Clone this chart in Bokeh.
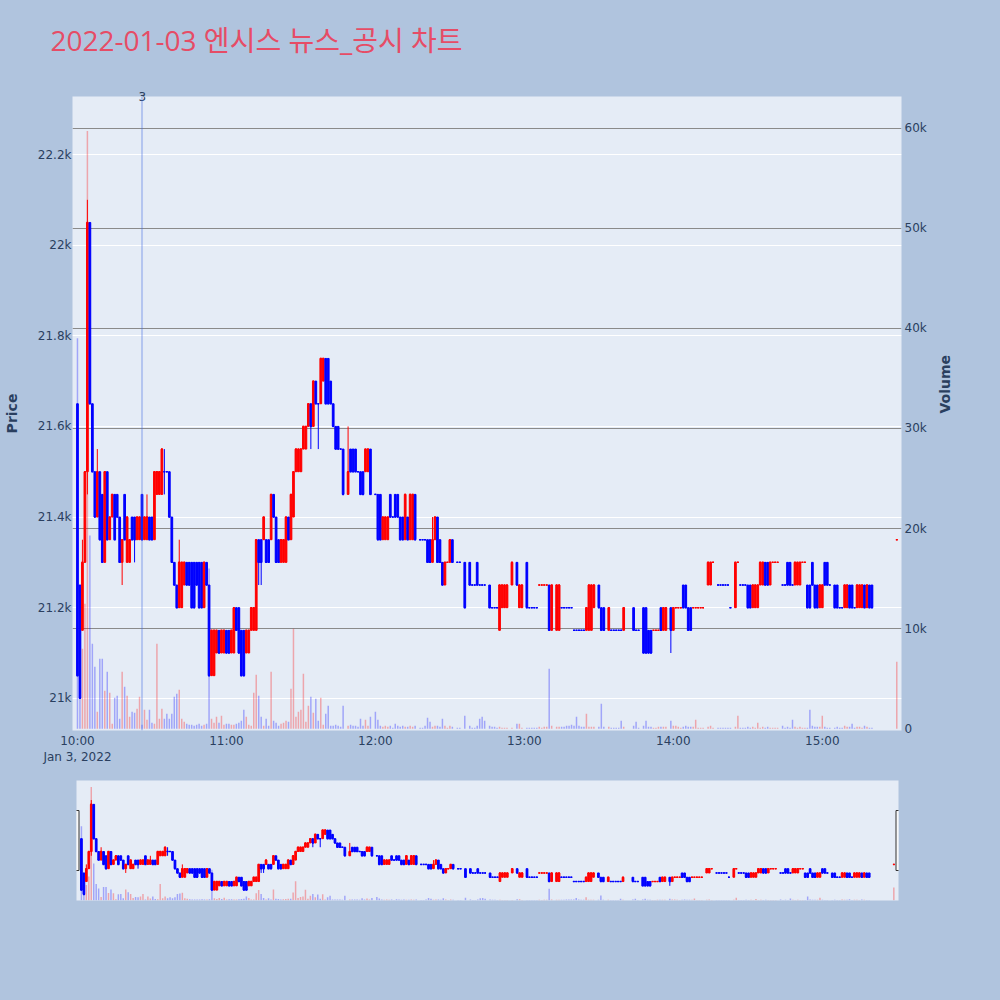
import math
import pandas as pd
from bokeh.plotting import figure
from bokeh.models import (ColumnDataSource, Range1d, LinearAxis, SingleIntervalTicker, FixedTicker,
                          DatetimeTickFormatter, CustomJSTickFormatter, Grid, Span, Title)
from bokeh.layouts import column
from bokeh.embed import file_html
from bokeh.resources import INLINE

TITLE = "2022-01-03 엔시스 뉴스_공시 차트"
SESSION_START = "2022-01-03 10:00"

# minutes after 10:00 that have a candle
minute = [*range(0, 108), *range(109, 119), *range(120, 137), *range(138, 152), 153, 154, 156,
          *range(158, 165), *range(166, 174), 175, 177, 178, 179, *range(181, 192), *range(193, 209),
          210, 211, 212, *range(214, 221), 224, 225, 226, *range(228, 238), *range(239, 253),
          254, 255, 256, *range(258, 264), *range(265, 283), *range(284, 304), *range(305, 321), 330]

open_ = [
    21650, 21250, 21150, 21300, 21500, 22050, 21650, 21500, 21400, 21500,
    21450, 21300, 21500, 21350, 21400, 21450, 21450, 21400, 21300, 21450,
    21300, 21300, 21400, 21400, 21350, 21350, 21450, 21350, 21350, 21400,
    21400, 21350, 21450, 21450, 21450, 21500, 21500, 21500, 21400, 21300,
    21250, 21200, 21200, 21250, 21300, 21300, 21300, 21300, 21300, 21300,
    21300, 21200, 21300, 21250, 21050, 21050, 21100, 21150, 21100, 21100,
    21150, 21150, 21100, 21100, 21200, 21200, 21150, 21150, 21100, 21100,
    21150, 21150, 21150, 21350, 21350, 21350, 21350, 21350, 21350, 21450,
    21400, 21350, 21300, 21300, 21300, 21400, 21350, 21400, 21500, 21500,
    21500, 21550, 21550, 21600, 21650, 21600, 21700, 21650, 21650, 21700,
    21750, 21750, 21700, 21650, 21600, 21600, 21550, 21550,
    21450, 21550, 21550, 21550, 21500, 21500, 21500, 21500, 21500, 21550,
    21450, 21450, 21450, 21350, 21350, 21350, 21450, 21400, 21450, 21450, 21400, 21400, 21350, 21400, 21350, 21350, 21450,
    21350, 21350, 21350, 21350, 21350, 21300, 21350, 21400, 21350, 21300, 21250, 21300, 21300, 21350,
    21300, 21300, 21300,
    21300, 21250, 21250, 21300, 21250, 21250, 21250,
    21250, 21200, 21200, 21200, 21150, 21200, 21200, 21200,
    21250, 21300, 21200, 21200,
    21300, 21200, 21200, 21200, 21200, 21250, 21250, 21250, 21250, 21250, 21150,
    21150, 21150, 21200, 21200, 21200, 21200, 21200, 21150, 21150, 21150, 21150, 21150, 21150, 21150, 21150, 21200,
    21250, 21200, 21200,
    21150, 21150, 21150, 21150, 21150, 21150, 21150,
    21200, 21150, 21150,
    21200, 21200, 21150, 21150, 21150, 21150, 21150, 21200, 21150, 21150,
    21200, 21150, 21200, 21200, 21200, 21250, 21250, 21200, 21200, 21200, 21200, 21200, 21200, 21200,
    21250, 21250, 21300,
    21250, 21250, 21250, 21250, 21250, 21200,
    21200, 21300, 21250, 21250, 21250, 21250, 21250, 21200, 21200, 21200, 21250, 21250, 21300, 21300, 21250, 21300, 21300, 21300,
    21250, 21250, 21300, 21300, 21250, 21250, 21250, 21250, 21300, 21300, 21250, 21250, 21300, 21250, 21250, 21200, 21200, 21300, 21300, 21250,
    21250, 21250, 21200, 21200, 21200, 21200, 21250, 21250, 21200, 21200, 21200, 21200, 21250, 21200, 21250, 21250,
    21350]

high = [
    21650, 21250, 21350, 21500, 22100, 22050, 21650, 21500, 21550, 21500,
    21450, 21500, 21500, 21400, 21450, 21450, 21450, 21400, 21350, 21450,
    21400, 21350, 21400, 21400, 21400, 21400, 21450, 21400, 21450, 21400,
    21400, 21500, 21500, 21500, 21550, 21550, 21500, 21500, 21400, 21300,
    21250, 21350, 21300, 21300, 21300, 21300, 21300, 21300, 21300, 21300,
    21300, 21300, 21300, 21250, 21150, 21150, 21150, 21150, 21150, 21150,
    21150, 21150, 21150, 21200, 21200, 21200, 21150, 21150, 21150, 21150,
    21200, 21200, 21350, 21350, 21350, 21400, 21350, 21350, 21450, 21450,
    21400, 21350, 21350, 21350, 21400, 21400, 21450, 21500, 21550, 21550,
    21550, 21600, 21600, 21650, 21650, 21700, 21700, 21650, 21750, 21750,
    21750, 21750, 21700, 21650, 21600, 21600, 21550, 21550,
    21600, 21550, 21550, 21550, 21500, 21500, 21500, 21550, 21550, 21550,
    21450, 21450, 21450, 21400, 21400, 21400, 21450, 21400, 21450, 21450, 21400, 21400, 21450, 21400, 21450, 21450, 21450,
    21350, 21350, 21350, 21350, 21350, 21400, 21400, 21400, 21350, 21300, 21300, 21300, 21350, 21350,
    21300, 21300, 21300,
    21300, 21250, 21250, 21300, 21250, 21250, 21250,
    21250, 21200, 21200, 21200, 21250, 21250, 21250, 21250,
    21300, 21300, 21250, 21250,
    21300, 21200, 21200, 21200, 21200, 21250, 21250, 21250, 21250, 21250, 21250,
    21250, 21250, 21200, 21200, 21200, 21200, 21200, 21150, 21150, 21150, 21150, 21150, 21200, 21250, 21250, 21250,
    21250, 21200, 21200,
    21200, 21150, 21150, 21150, 21150, 21150, 21200,
    21200, 21150, 21150,
    21200, 21200, 21150, 21150, 21150, 21150, 21150, 21200, 21200, 21200,
    21200, 21200, 21200, 21200, 21200, 21250, 21250, 21200, 21200, 21200, 21200, 21200, 21200, 21200,
    21300, 21300, 21300,
    21250, 21250, 21250, 21250, 21250, 21200,
    21300, 21300, 21250, 21250, 21250, 21250, 21250, 21250, 21250, 21250, 21300, 21300, 21300, 21300, 21300, 21300, 21300, 21300,
    21250, 21250, 21300, 21300, 21250, 21300, 21300, 21300, 21300, 21300, 21250, 21250, 21300, 21250, 21250, 21250, 21250, 21300, 21300, 21250,
    21250, 21250, 21200, 21200, 21250, 21250, 21250, 21250, 21200, 21250, 21250, 21250, 21250, 21250, 21250, 21250,
    21350]

low = [
    21050, 21000, 21150, 21300, 21450, 21650, 21500, 21400, 21400, 21350,
    21300, 21300, 21350, 21350, 21400, 21350, 21400, 21300, 21250, 21350,
    21300, 21300, 21350, 21300, 21350, 21350, 21350, 21350, 21350, 21350,
    21350, 21350, 21450, 21450, 21450, 21450, 21500, 21400, 21300, 21250,
    21200, 21200, 21200, 21250, 21250, 21250, 21200, 21200, 21250, 21200,
    21200, 21200, 21250, 21050, 21050, 21050, 21100, 21100, 21100, 21100,
    21100, 21100, 21100, 21100, 21150, 21100, 21050, 21050, 21100, 21100,
    21150, 21150, 21150, 21250, 21250, 21350, 21300, 21300, 21350, 21400,
    21300, 21300, 21300, 21300, 21300, 21350, 21350, 21400, 21500, 21500,
    21500, 21550, 21550, 21600, 21550, 21600, 21650, 21550, 21650, 21700,
    21650, 21650, 21650, 21600, 21550, 21550, 21550, 21450,
    21450, 21500, 21500, 21500, 21500, 21450, 21450, 21500, 21500, 21450,
    21450, 21350, 21350, 21350, 21350, 21350, 21400, 21400, 21400, 21400, 21350, 21350, 21350, 21350, 21350, 21350, 21350,
    21350, 21350, 21350, 21300, 21300, 21300, 21350, 21300, 21300, 21250, 21250, 21300, 21300, 21300,
    21300, 21300, 21200,
    21250, 21250, 21250, 21250, 21250, 21250, 21250,
    21200, 21200, 21200, 21200, 21150, 21200, 21200, 21200,
    21250, 21250, 21200, 21200,
    21200, 21200, 21200, 21200, 21200, 21250, 21250, 21250, 21250, 21150, 21150,
    21150, 21150, 21200, 21200, 21200, 21200, 21200, 21150, 21150, 21150, 21150, 21150, 21150, 21150, 21150, 21200,
    21200, 21150, 21150,
    21150, 21150, 21150, 21150, 21150, 21150, 21150,
    21150, 21150, 21150,
    21100, 21100, 21100, 21100, 21150, 21150, 21150, 21150, 21150, 21150,
    21100, 21150, 21200, 21200, 21200, 21200, 21200, 21150, 21150, 21200, 21200, 21200, 21200, 21200,
    21250, 21250, 21300,
    21250, 21250, 21250, 21250, 21250, 21200,
    21200, 21300, 21250, 21250, 21250, 21200, 21200, 21200, 21200, 21200, 21250, 21250, 21250, 21250, 21250, 21300, 21300, 21300,
    21250, 21250, 21250, 21250, 21250, 21250, 21250, 21250, 21300, 21300, 21200, 21200, 21250, 21200, 21200, 21200, 21200, 21250, 21250, 21250,
    21200, 21200, 21200, 21200, 21200, 21200, 21200, 21200, 21200, 21200, 21200, 21200, 21200, 21200, 21200, 21200,
    21350]

close = [
    21050, 21000, 21300, 21500, 22050, 21650, 21500, 21400, 21500, 21350,
    21300, 21500, 21350, 21400, 21450, 21350, 21400, 21300, 21350, 21350,
    21400, 21350, 21350, 21350, 21400, 21400, 21350, 21400, 21400, 21350,
    21350, 21500, 21500, 21500, 21550, 21500, 21500, 21400, 21300, 21250,
    21200, 21300, 21300, 21300, 21250, 21250, 21200, 21200, 21250, 21200,
    21200, 21300, 21250, 21050, 21150, 21150, 21150, 21100, 21150, 21150,
    21100, 21100, 21150, 21200, 21150, 21100, 21050, 21050, 21150, 21150,
    21200, 21200, 21350, 21300, 21300, 21400, 21300, 21300, 21450, 21400,
    21300, 21300, 21350, 21350, 21400, 21350, 21450, 21500, 21550, 21550,
    21550, 21600, 21600, 21650, 21600, 21700, 21650, 21650, 21750, 21750,
    21650, 21650, 21650, 21600, 21550, 21550, 21550, 21450,
    21500, 21500, 21500, 21500, 21500, 21450, 21450, 21550, 21550, 21450,
    21450, 21350, 21350, 21400, 21400, 21400, 21400, 21400, 21400, 21400, 21350, 21350, 21450, 21350, 21450, 21450, 21350,
    21350, 21350, 21350, 21300, 21300, 21350, 21400, 21300, 21300, 21250, 21300, 21300, 21350, 21300,
    21300, 21300, 21200,
    21250, 21250, 21250, 21250, 21250, 21250, 21250,
    21200, 21200, 21200, 21200, 21250, 21250, 21250, 21250,
    21300, 21250, 21250, 21250,
    21200, 21200, 21200, 21200, 21200, 21250, 21250, 21250, 21250, 21150, 21250,
    21250, 21250, 21200, 21200, 21200, 21200, 21200, 21150, 21150, 21150, 21150, 21150, 21200, 21250, 21250, 21250,
    21200, 21150, 21150,
    21200, 21150, 21150, 21150, 21150, 21150, 21200,
    21150, 21150, 21150,
    21100, 21100, 21100, 21100, 21150, 21150, 21150, 21150, 21200, 21200,
    21150, 21200, 21200, 21200, 21200, 21200, 21200, 21150, 21150, 21200, 21200, 21200, 21200, 21200,
    21300, 21300, 21300,
    21250, 21250, 21250, 21250, 21250, 21200,
    21300, 21300, 21250, 21250, 21250, 21200, 21200, 21250, 21250, 21250, 21300, 21300, 21250, 21250, 21300, 21300, 21300, 21300,
    21250, 21250, 21250, 21250, 21250, 21300, 21300, 21300, 21300, 21300, 21200, 21200, 21250, 21200, 21200, 21250, 21250, 21250, 21250, 21250,
    21200, 21200, 21200, 21200, 21250, 21250, 21200, 21200, 21200, 21250, 21250, 21250, 21200, 21250, 21200, 21200,
    21350]

volume = [
    39000, 4000, 8000, 12500, 59700, 19300, 8500, 6200, 1700, 7000,
    7000, 3800, 5700, 3600, 500, 3100, 3300, 1000, 5700, 4200,
    3300, 1200, 1700, 1600, 2000, 3200, 400, 1900, 900, 1900,
    600, 500, 8500, 1000, 2000, 1000, 1500, 1000, 1500, 3200,
    3500, 3900, 1000, 700, 500, 400, 400, 300, 400, 500,
    300, 400, 500, 16000, 1000, 600, 1200, 600, 1300, 400,
    500, 500, 400, 400, 500, 600, 800, 1900, 1200, 400,
    300, 3600, 5400, 3300, 1200, 300, 1000, 300, 5700, 800,
    600, 300, 500, 600, 800, 700, 4000, 10000, 1200, 1700,
    1900, 5500, 700, 2300, 3200, 1600, 3000, 800, 3100, 400,
    1500, 2300, 300, 300, 400, 300, 200, 2300,
    300, 400, 300, 300, 200, 1000, 300, 900, 300, 1200,
    1700, 900, 300, 200, 300, 200, 300, 100, 500, 300, 200, 300, 200, 200, 300, 200, 300,
    100, 100, 300, 1100, 700, 200, 300, 300, 200, 1000, 300, 100, 300, 200,
    100, 100, 1300,
    300, 100, 100, 300, 1000, 1200, 800,
    300, 200, 200, 100, 200, 100, 100, 100,
    100, 500, 500, 100,
    100, 100, 100, 100, 100, 200, 100, 200, 200, 6000, 300,
    200, 200, 200, 200, 300, 300, 400, 300, 1200, 300, 200, 200, 1500, 200, 200, 200,
    200, 2500, 200,
    200, 100, 100, 100, 100, 800, 200,
    300, 700, 100,
    300, 800, 200, 200, 100, 100, 200, 200, 200, 200,
    800, 300, 300, 200, 100, 200, 300, 200, 200, 200, 900, 100, 100, 100,
    200, 300, 100,
    100, 100, 100, 100, 100, 100,
    200, 1300, 100, 100, 100, 200, 100, 200, 100, 600, 100, 200, 100, 200, 100, 100, 100, 100,
    300, 100, 200, 100, 900, 200, 100, 200, 100, 100, 100, 1900, 300, 200, 200, 200, 1300, 200, 100, 100,
    100, 200, 100, 100, 300, 200, 200, 500, 100, 200, 200, 100, 300, 200, 100, 100,
    6700]

news_minute = [26]
news_label = ["3"]

n = len(minute)
assert all(len(a) == n for a in (open_, high, low, close, volume)), [len(a) for a in (minute, open_, high, low, close, volume)]

UP, DOWN = "#FF0000", "#0000FF"
start = pd.Timestamp(SESSION_START)
times = [start + pd.Timedelta(minutes=m) for m in minute]

colors = []
prev_c, prev_dir = None, DOWN
for o, c in zip(open_, close):
    if c > o:
        d = UP
    elif c < o:
        d = DOWN
    elif prev_c is not None and c > prev_c:
        d = UP
    elif prev_c is not None and c < prev_c:
        d = DOWN
    else:
        d = prev_dir
    colors.append(d)
    prev_c, prev_dir = c, d

BODY_W = 42000  # ms
src = ColumnDataSource(dict(
    t=times, o=open_, h=high, l=low, c=close, v=volume, color=colors,
    top=[max(a, b) for a, b in zip(open_, close)],
    bottom=[min(a, b) for a, b in zip(open_, close)],
    x0=[t - pd.Timedelta(milliseconds=BODY_W / 2) for t in times],
    x1=[t + pd.Timedelta(milliseconds=BODY_W / 2) for t in times],
))

x_start = (start - pd.Timedelta(minutes=2)).to_pydatetime()
x_end = (start + pd.Timedelta(minutes=331.9)).to_pydatetime()
PRICE_RANGE = (20929, 22328)
VOL_RANGE = (-170, 63150)

FONT = "DejaVu Sans"
TXT = "#2a3f5f"
PAGE_BG = "#B0C4DE"
PLOT_BG = "#E5ECF6"
FRAME_LEFT, FRAME_RIGHT_BORDER = 72, 99

# ---- title strip ----
pt = figure(width=1000, height=60, output_backend="svg", toolbar_location=None,
            x_axis_location=None, y_axis_location=None, x_range=(0, 1), y_range=(0, 1),
            min_border_left=FRAME_LEFT, min_border_right=FRAME_RIGHT_BORDER,
            min_border_top=58, min_border_bottom=0,
            background_fill_color=PAGE_BG, border_fill_color=PAGE_BG, outline_line_color=None)
pt.frame_align = False
pt.grid.visible = False
pt.title.text = TITLE
pt.title.text_font = "'Open Sans', 'Noto Sans CJK KR', sans-serif"
pt.title.text_font_size = "28px"
pt.title.text_font_style = "normal"
pt.title.text_color = "#E64C66"
pt.title.align = "left"
pt.title.offset = -22
pt.title.standoff = 0
pt.scatter(x=[0.5], y=[0.5], size=0, alpha=0)

# ---- main chart ----
p = figure(width=1000, height=710, x_axis_type="datetime", title=None,
           x_range=Range1d(x_start, x_end), y_range=Range1d(*PRICE_RANGE),
           output_backend="svg", toolbar_location=None,
           min_border_left=FRAME_LEFT, min_border_right=FRAME_RIGHT_BORDER,
           min_border_top=36, min_border_bottom=40,
           background_fill_color=PLOT_BG, border_fill_color=PAGE_BG, outline_line_color=None)
p.frame_align = False
p.extra_y_ranges = {"vol": Range1d(*VOL_RANGE)}

# price axis
ya = p.yaxis[0]
ya.ticker = SingleIntervalTicker(interval=200)
ya.formatter = CustomJSTickFormatter(code="return (Math.round(tick/100)/10).toString() + 'k';")
ya.axis_label = "Price"
ya.major_label_standoff = 1
ya.axis_label_standoff = 15

# volume axis
va = LinearAxis(y_range_name="vol", ticker=SingleIntervalTicker(interval=10000),
                formatter=CustomJSTickFormatter(code="return tick == 0 ? '0' : (tick/1000).toString() + 'k';"),
                axis_label="Volume", major_label_standoff=3, axis_label_standoff=15,
                axis_label_orientation=math.pi / 2)
p.add_layout(va, "right")

xa = p.xaxis[0]
xa.ticker = FixedTicker(ticks=[(start + pd.Timedelta(hours=h)).value / 1e6 for h in range(6)])
ctx = DatetimeTickFormatter(hours="%b %-d, %Y", hourmin="%b %-d, %Y", minutes="%b %-d, %Y")
xa.formatter = DatetimeTickFormatter(hours="%H:%M", hourmin="%H:%M", minutes="%H:%M",
                                     context=ctx, context_which="start")
xa.major_label_standoff = 3

for ax in (ya, va, xa):
    ax.axis_line_color = None
    ax.major_tick_line_color = None
    ax.minor_tick_line_color = None
    ax.major_tick_out = 0
    ax.major_tick_in = 0
    ax.minor_tick_out = 0
    ax.minor_tick_in = 0
    ax.major_label_text_font = FONT
    ax.major_label_text_font_size = "12px"
    ax.major_label_text_color = TXT
    ax.axis_label_text_font = FONT
    ax.axis_label_text_font_size = "14px"
    ax.axis_label_text_font_style = "bold"
    ax.axis_label_text_color = TXT

p.xgrid.grid_line_color = None
p.ygrid.grid_line_color = "white"
p.ygrid.grid_line_width = 1
vol_grid = Grid(dimension=1, ticker=FixedTicker(ticks=[10000, 20000, 30000, 40000, 50000, 60000]),
                y_range_name="vol", grid_line_color="#8a8a8a", grid_line_width=1)
p.add_layout(vol_grid)

# news markers: vertical line + count label at the top edge of the plot
frame_w = 1000 - FRAME_LEFT - FRAME_RIGHT_BORDER
x_span_min = (x_end - x_start).total_seconds() / 60
for nm, nl in zip(news_minute, news_label):
    nt = start + pd.Timedelta(minutes=nm)
    p.add_layout(Span(location=nt.value / 1e6, dimension="height", line_color="#4169E1",
                      line_alpha=0.3, line_width=2))
    px = (nm + 2) / x_span_min * frame_w   # pixel position of the news time inside the frame
    t3 = Title(text=nl, align="left", offset=px - 3.5, text_font=FONT, text_font_size="12px",
               text_font_style="normal", text_color=TXT)
    try:
        t3.standoff = -9
    except Exception:
        t3.standoff = 0
    p.add_layout(t3, "above")


def draw(fig, body_w=BODY_W):
    fig.vbar(x="t", top="v", bottom=0, width=36000, source=src, y_range_name="vol",
             fill_color="color", line_color=None, fill_alpha=0.3)
    fig.segment(x0="t", y0="h", x1="t", y1="l", source=src, line_color="color", line_width=1)
    fig.vbar(x="t", top="top", bottom="bottom", width=body_w, source=src,
             fill_color="color", line_color="color", line_width=1)
    fig.segment(x0="x0", y0="c", x1="x1", y1="c", source=src, line_color="color", line_width=1.5)


draw(p)

# ---- range slider preview ----
p2 = figure(width=1000, height=230, x_axis_type="datetime",
            x_range=Range1d(x_start, x_end), y_range=Range1d(*PRICE_RANGE),
            x_axis_location=None, y_axis_location=None,
            output_backend="svg", toolbar_location=None,
            min_border_left=76, min_border_right=102, min_border_top=10, min_border_bottom=100,
            background_fill_color=PLOT_BG, border_fill_color=PAGE_BG, outline_line_color=None)
p2.frame_align = False
p2.extra_y_ranges = {"vol": Range1d(*VOL_RANGE)}
p2.grid.visible = False
draw(p2)
mid = sum(PRICE_RANGE) / 2
p2.rect(x=[x_start, x_end], y=[mid, mid], width=5, height=60, width_units="screen",
        height_units="screen", fill_color="#f8f8f8", line_color="#333333", line_width=1)

layout = column(pt, p, p2, spacing=0, styles={"background-color": PAGE_BG})
html = file_html(layout, INLINE, title="chart")
html = html.replace("<head>", "<head><style>html,body{background-color:%s;}</style>" % PAGE_BG, 1)
open("out.html", "w").write(html)
